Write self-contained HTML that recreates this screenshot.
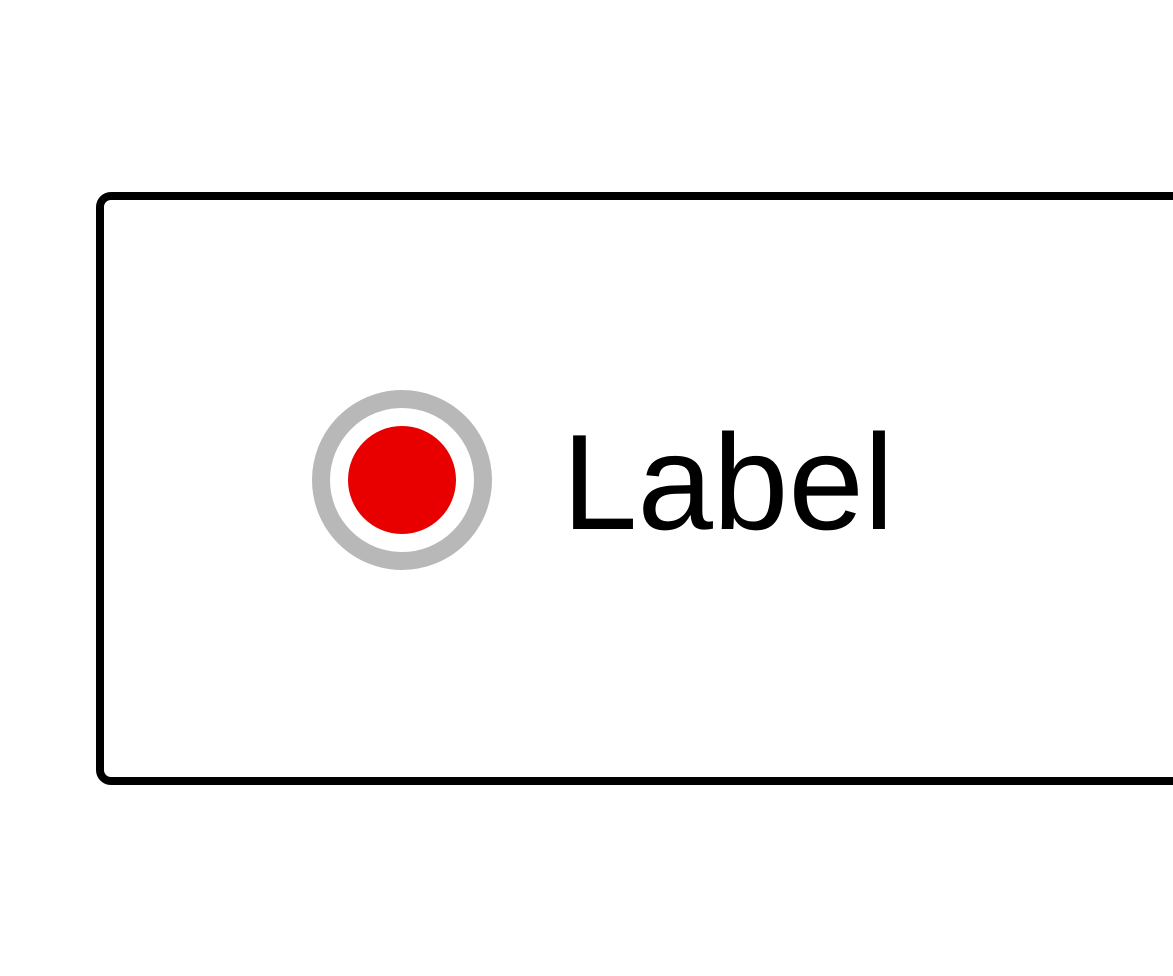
<!DOCTYPE html>
<html><head><meta charset="utf-8"><style>
html,body{margin:0;padding:0;background:#fff;width:1173px;height:976px;overflow:hidden}
</style></head><body>
<svg width="1173" height="976" xmlns="http://www.w3.org/2000/svg">
<rect x="0" y="0" width="1173" height="976" fill="#fff"/>
<rect x="100" y="196" width="1200" height="585" rx="11" ry="11" fill="#fff" stroke="#000" stroke-width="8"/>
<circle cx="402" cy="480" r="81" fill="#fff" stroke="#b8b8b8" stroke-width="18"/>
<circle cx="402" cy="480" r="54" fill="#e80000"/>
<text x="562" y="529" font-family="Liberation Sans, sans-serif" font-size="136" fill="#000" textLength="332" lengthAdjust="spacingAndGlyphs">Label</text>
</svg>
</body></html>
